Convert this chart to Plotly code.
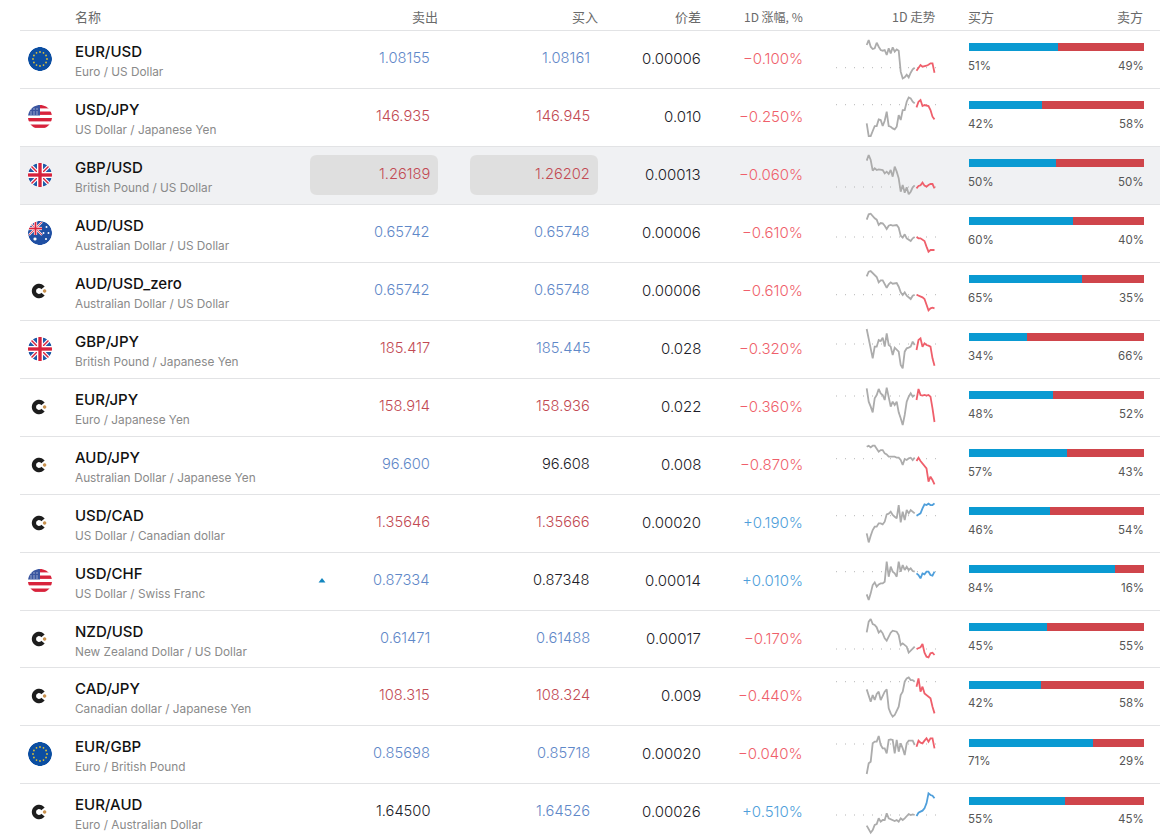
import numpy as np
import plotly.graph_objects as go

W, H = 1176, 836
HILITE = 2
FONT = "Inter, 'Noto Sans CJK SC', sans-serif"
CJK = "'Noto Sans CJK SC', sans-serif"

symbols = ["EUR/USD", "USD/JPY", "GBP/USD", "AUD/USD", "AUD/USD_zero", "GBP/JPY", "EUR/JPY",
           "AUD/JPY", "USD/CAD", "USD/CHF", "NZD/USD", "CAD/JPY", "EUR/GBP", "EUR/AUD"]
names = ["Euro / US Dollar", "US Dollar / Japanese Yen", "British Pound / US Dollar",
         "Australian Dollar / US Dollar", "Australian Dollar / US Dollar",
         "British Pound / Japanese Yen", "Euro / Japanese Yen", "Australian Dollar / Japanese Yen",
         "US Dollar / Canadian dollar", "US Dollar / Swiss Franc", "New Zealand Dollar / US Dollar",
         "Canadian dollar / Japanese Yen", "Euro / British Pound", "Euro / Australian Dollar"]
flags = ["eu", "us", "gb", "au", "c", "gb", "c", "c", "c", "us", "c", "c", "eu", "c"]
bid = ["1.08155", "146.935", "1.26189", "0.65742", "0.65742", "185.417", "158.914",
       "96.600", "1.35646", "0.87334", "0.61471", "108.315", "0.85698", "1.64500"]
ask = ["1.08161", "146.945", "1.26202", "0.65748", "0.65748", "185.445", "158.936",
       "96.608", "1.35666", "0.87348", "0.61488", "108.324", "0.85718", "1.64526"]
bid_dir = ["u", "d", "d", "u", "u", "d", "d", "u", "d", "u", "u", "d", "u", "n"]
ask_dir = ["u", "d", "d", "u", "u", "u", "d", "n", "d", "n", "u", "d", "u", "u"]
spread = ["0.00006", "0.010", "0.00013", "0.00006", "0.00006", "0.028", "0.022",
          "0.008", "0.00020", "0.00014", "0.00017", "0.009", "0.00020", "0.00026"]
change = ["-0.100%", "-0.250%", "-0.060%", "-0.610%", "-0.610%", "-0.320%", "-0.360%",
          "-0.870%", "+0.190%", "+0.010%", "-0.170%", "-0.440%", "-0.040%", "+0.510%"]
buyers = [51, 42, 50, 60, 65, 34, 48, 57, 46, 84, 45, 42, 71, 55]
sellers = [49, 58, 50, 40, 35, 66, 52, 43, 54, 16, 55, 58, 29, 45]
# bars are not quite the rounded labels
buy_share = [50.7, 41.5, 49.7, 59.6, 64.6, 33.2, 48.0, 56.2, 46.3, 83.5, 44.8, 41.2, 71.0, 54.9]

# 1D trend, change against previous close (arbitrary units), older part then latest part
spark_old = [
    [68, 83, 63, 56, 58, 75, 63, 53, 51, 53, 38, 58, 43, 61, 48, 55, 51, -12, -32, -29, -21, -29, -15, -5, 0],
    [-56, -94, -94, -81, -64, -64, -44, -46, -64, -48, -21, -64, -66, -71, -74, -66, -31, -46, -16, -16, 9, 22, 19, 9, 4],
    [79, 96, 81, 49, 56, 51, 53, 51, 51, 41, 46, 39, 51, 31, 61, 46, 26, -14, 6, -17, -1, -22, -14, -1, 5],
    [52, 68, 70, 62, 56, 52, 36, 42, 41, 34, 24, 34, 36, 34, 36, 36, 28, 4, -2, 8, -4, -8, -12, -4, 0],
    [55, 69, 71, 64, 57, 53, 37, 43, 43, 33, 21, 31, 37, 33, 35, 35, 24, 7, -1, 7, -3, -7, -13, -3, 0],
    [45, 17, -8, -43, -8, -8, 12, 9, 19, -8, 32, -3, -8, -33, -11, -18, -23, -63, -73, -23, -13, -11, -8, 7, -3],
    [23, -17, -32, -49, -7, 3, 21, 8, 3, -12, 25, -7, -32, -17, -27, -17, -49, -67, -87, -57, -17, -2, 8, -2, 3],
    [36, 39, 34, 39, 39, 31, 21, 26, 26, 16, 13, 6, 6, 4, 6, 3, 3, -4, -19, -1, -4, 1, 3, -4, 3],
    [-53, -80, -60, -43, -33, -33, -23, -23, -26, -18, 4, 6, 12, 2, -3, -8, 32, -20, 12, -13, 17, 7, 17, 12, 7],
    [-68, -85, -65, -40, -32, -45, -38, -35, -35, -30, 30, -15, 15, 0, -5, -15, 30, 0, 20, 5, 15, 5, 10, 2, 0],
    [50, 82, 90, 75, 72, 65, 49, 55, 47, 32, 25, 37, 49, 55, 54, 52, 42, 12, 17, 12, 7, -11, -5, 2, 7],
    [-23, -40, -60, -40, -55, -37, -30, -55, -40, -30, -23, -80, -95, -105, -100, -85, -75, -40, -30, 0, 10, 13, 5, 5, 0],
    [-90, -58, -53, 2, 7, 7, 24, -3, -13, -13, -28, 12, 14, 12, -28, 12, -23, 2, -13, -33, 2, 10, 10, 10, -3],
    [-32, -43, -53, -45, -30, -27, -10, -20, -15, -15, 5, -10, -13, -15, -18, -15, -20, -10, -15, -10, -3, 3, 0, 2, 0],
]
spark_new = [
    [-9, 0, 8, 3, 4, 6, 9, 13, 13, -15],
    [-8, 9, 14, -4, -1, -2, -4, -16, -36, -44],
    [-4, 3, 5, 13, 4, 1, 6, 9, 9, -4],
    [0, -4, -4, -8, -12, -29, -44, -39, -39, -39],
    [0, -3, -4, -8, -13, -29, -47, -41, -39, -41],
    [-18, 12, 17, -8, 2, -3, -5, -8, -43, -65],
    [-12, 21, 3, 1, 3, 1, 3, -2, -37, -78],
    [-7, 3, -7, -14, -24, -29, -69, -54, -64, -77],
    [0, 4, 7, 22, 34, 32, 36, 32, 32, 37],
    [-5, -10, -20, -5, -8, 0, 0, -10, -12, 0],
    [0, 2, 5, 15, -11, -23, -25, -13, -11, -18],
    [-15, 10, -30, -15, -35, -40, -45, -50, -75, -95],
    [-8, 10, 4, 2, 10, 17, 7, 17, 17, -13],
    [-3, 7, 10, 13, 20, 35, 65, 60, 58, 50],
]

# page layout, in pixels
row_tops = [30, 88, 146, 204, 262, 320, 378, 436, 494, 552, 610, 667, 725, 783]
ROW_H = 58
spark_base = [67.7, 104.7, 187, 237, 294.7, 344, 396, 458.7, 515.7, 571.7, 649, 681.7, 744, 815]

DIR_COL = {"u": "#5f88c8", "d": "#c24a53", "n": "#1c1c28"}
PANEL = "#f0f1f3"


def circle(cx, cy, r, rev=False, n=48):
    a = np.linspace(0, 2 * np.pi, n, endpoint=False)
    if rev:
        a = a[::-1]
    return "M" + "L".join(f"{cx + r * np.cos(t):.2f},{cy + r * np.sin(t):.2f}" for t in a) + "Z"


def poly(pts):
    return "M" + "L".join(f"{x:.2f},{y:.2f}" for x, y in pts) + "Z"


def rrect(x0, y0, x1, y1, r):
    return (f"M{x0 + r},{y0}L{x1 - r},{y0}Q{x1},{y0} {x1},{y0 + r}L{x1},{y1 - r}Q{x1},{y1} {x1 - r},{y1}"
            f"L{x0 + r},{y1}Q{x0},{y1} {x0},{y1 - r}L{x0},{y0 + r}Q{x0},{y0} {x0 + r},{y0}Z")


def fill_shape(path, color):
    return dict(type="path", path=path, fillcolor=color, line_width=0, xref="x", yref="y", layer="above")


def band(x0, y0, x1, y1, w):
    dx, dy = x1 - x0, y1 - y0
    k = w / 2 / np.hypot(dx, dy)
    return poly([(x0 - dy * k, y0 + dx * k), (x1 - dy * k, y1 + dx * k),
                 (x1 + dy * k, y1 - dx * k), (x0 + dy * k, y0 - dx * k)])


def union_jack(cx, cy, s):
    out = []
    for sx in (1, -1):
        out.append(fill_shape(band(cx - s * sx, cy - s, cx + s * sx, cy + s, s * 0.32), "#ffffff"))
        out.append(fill_shape(band(cx - s * sx, cy - s, cx + s * sx, cy + s, s * 0.12), "#d8233c"))
    out.append(fill_shape(band(cx - s, cy, cx + s, cy, s * 0.5), "#ffffff"))
    out.append(fill_shape(band(cx, cy - s, cx, cy + s, s * 0.5), "#ffffff"))
    out.append(fill_shape(band(cx - s, cy, cx + s, cy, s * 0.28), "#d8233c"))
    out.append(fill_shape(band(cx, cy - s, cx, cy + s, s * 0.28), "#d8233c"))
    return out


def flag(kind, cx, cy, bg):
    r = 12
    out = []
    if kind == "c":
        a = np.radians(np.linspace(38, 322, 30))
        outer = [(cx - 1 + 7.2 * np.cos(t), cy + 7.2 * np.sin(t)) for t in a]
        inner = [(cx - 1 + 2.9 * np.cos(t), cy + 2.9 * np.sin(t)) for t in a[::-1]]
        out.append(fill_shape(poly(outer + inner), "#1d1d1d"))
        out.append(fill_shape(circle(cx + 4.6, cy, 1.7), "#c9924f"))
        return out
    if kind == "eu":
        out.append(fill_shape(circle(cx, cy, r), "#0b4ea2"))
        for t in np.radians(np.arange(0, 360, 30)):
            out.append(fill_shape(circle(cx + 7 * np.cos(t), cy + 7 * np.sin(t), 0.9, n=8), "#e3c436"))
    elif kind == "us":
        out.append(fill_shape(circle(cx, cy, r), "#ffffff"))
        for k in (-12, -5.5, 1, 7.5):
            out.append(fill_shape(poly([(cx - r, cy + k), (cx + r, cy + k), (cx + r, cy + k + 3.4), (cx - r, cy + k + 3.4)]), "#d8233c"))
        out.append(fill_shape(poly([(cx - r, cy - r), (cx, cy - r), (cx, cy - 1.5), (cx - r, cy - 1.5)]), "#3a55a0"))
        for dx in (-9, -6, -3):
            for dy in (-8, -5, -3):
                out.append(fill_shape(circle(cx + dx, cy + dy, 0.6, n=6), "#ffffff"))
    elif kind == "gb":
        out.append(fill_shape(circle(cx, cy, r), "#1f5ba8"))
        out += union_jack(cx, cy, r)
    elif kind == "au":
        out.append(fill_shape(circle(cx, cy, r), "#1f4fa3"))
        out += union_jack(cx - 4.5, cy - 4.5, 6.5)
        for dx, dy, s in [(6.5, -6, 1), (3.5, 0, 1), (8.5, 0, 1), (6, 6, 1.1), (-5, 6, 1.6)]:
            out.append(fill_shape(circle(cx + dx, cy + dy, s, n=8), "#ffffff"))
    # ring hides whatever pokes out of the round flag
    ring = poly([(cx - 16, cy - 16), (cx + 16, cy - 16), (cx + 16, cy + 16), (cx - 16, cy + 16)]) + circle(cx, cy, r, rev=True)
    out.append(fill_shape(ring, bg))
    return out


fig = go.Figure()

# invisible trace so the pixel axes are there for text and shapes
fig.add_trace(go.Scatter(x=[0, W], y=[0, H], mode="markers", marker_opacity=0, hoverinfo="skip", xaxis="x", yaxis="y"))

shapes = []
annots = []


def text(x, y, s, size, color, anchor="left", family=FONT, weight=None):
    f = dict(family=family, size=size, color=color)
    if weight:
        f["weight"] = weight
    annots.append(dict(x=x, y=y, xref="x", yref="y", text=s, showarrow=False, xanchor=anchor,
                       yanchor="middle", font=f, borderpad=0, borderwidth=0))


y_hl = row_tops[HILITE]
shapes.append(dict(type="rect", x0=20, x1=1160, y0=y_hl, y1=y_hl + ROW_H, fillcolor=PANEL, line_width=0, layer="below", xref="x", yref="y"))
shapes.append(dict(type="path", path=rrect(310, 155, 438, 195, 7), fillcolor="#dfdfdf", line_width=0, layer="below", xref="x", yref="y"))
shapes.append(dict(type="path", path=rrect(470, 155, 598, 195, 7), fillcolor="#dfdfdf", line_width=0, layer="below", xref="x", yref="y"))
for top in row_tops:
    yy = top + 0.5
    shapes.append(dict(type="line", x0=20, x1=1160, y0=yy, y1=yy, line=dict(color="#e2e3e5", width=1), layer="below", xref="x", yref="y"))

# header
HEAD = "#6a6a6a"
text(75, 16, "名称", 13, HEAD, family=CJK)
text(438, 16, "卖出", 13, HEAD, "right", CJK)
text(598, 16, "买入", 13, HEAD, "right", CJK)
text(701, 16, "价差", 13, HEAD, "right", CJK)
text(803, 16, "1D 涨幅, %", 12, HEAD, "right", CJK)
text(936, 16, "1D 走势", 12.5, HEAD, "right", CJK)
text(968, 16, "买方", 13, HEAD, "left", CJK)
text(1143, 16, "卖方", 13, HEAD, "right", CJK)

for i in range(14):
    m = row_tops[i] + 29
    bg = PANEL if i == HILITE else "#ffffff"
    shapes += flag(flags[i], 40, m, bg)
    text(75, m - 8, symbols[i], 15, "#111111", weight=500)
    text(75, m + 13, names[i], 11.8, "#8a8a8a")
    text(430, m - 1, bid[i], 14.7, DIR_COL[bid_dir[i]], "right", weight=300)
    text(590, m - 1, ask[i], 14.7, DIR_COL[ask_dir[i]], "right", weight=300)
    text(701, m - 1, spread[i], 15, "#1c1c28", "right", weight=300)
    col = "#ef5f6b" if change[i][0] == "-" else "#4f9fdb"
    text(803, m - 1, change[i].replace("-", "−"), 15, col, "right", weight=300)
    text(968, m + 7, f"{buyers[i]}%", 11.5, "#555555")
    text(1143.5, m + 7, f"{sellers[i]}%", 11.5, "#555555", "right")

# buyers / sellers bars
row_idx = list(range(14))
ax_top = -47 / ROW_H
ax_bot = (H - 47) / ROW_H
fig.add_trace(go.Bar(y=row_idx, x=buy_share, orientation="h", width=8 / ROW_H, marker=dict(color="#0a9ad2", line_width=0),
                     xaxis="x2", yaxis="y2", hoverinfo="skip"))
fig.add_trace(go.Bar(y=row_idx, x=[100 - v for v in buy_share], orientation="h", width=8 / ROW_H,
                     marker=dict(color="#cf454b", line_width=0), xaxis="x2", yaxis="y2", hoverinfo="skip"))

layout = dict(
    width=W, height=H, margin=dict(l=0, r=0, t=0, b=0), paper_bgcolor="#ffffff", plot_bgcolor="rgba(0,0,0,0)",
    showlegend=False, barmode="stack",
    xaxis=dict(range=[0, W], visible=False, fixedrange=True, domain=[0, 1]),
    yaxis=dict(range=[H, 0], visible=False, fixedrange=True, domain=[0, 1]),
    xaxis2=dict(range=[0, 100], visible=False, fixedrange=True, domain=[969 / W, 1144 / W], anchor="y2"),
    yaxis2=dict(range=[ax_bot, ax_top], visible=False, fixedrange=True, domain=[0, 1], anchor="x2"),
)

# one small axis pair per trend line
SPX0, SPX1 = 835, 936
SCALE = 3  # data units per pixel
n_old = len(spark_old[0])
t_old = [2 * k for k in range(n_old)]
t_new = [2 * (n_old - 0.1) + 2 * k for k in range(10)]
for i in range(14):
    n = i + 3
    top = row_tops[i]
    bot = min(top + ROW_H, H)
    base = spark_base[i]
    xa, ya = f"xaxis{n}", f"yaxis{n}"
    layout[xa] = dict(range=[(SPX0 - 866.7), (SPX1 - 866.7)], visible=False, fixedrange=True,
                      domain=[SPX0 / W, SPX1 / W], anchor=f"y{n}")
    layout[ya] = dict(range=[(base - bot) * SCALE, (base - top) * SCALE], visible=False, fixedrange=True,
                      domain=[1 - bot / H, 1 - top / H], anchor=f"x{n}")
    fig.add_trace(go.Scatter(x=[SPX0 - 866.7 + 1, SPX1 - 866.7], y=[0, 0], mode="lines",
                             line=dict(color="#b5b5b5", width=1, dash="1px 8px"), xaxis=f"x{n}", yaxis=f"y{n}", hoverinfo="skip"))
    fig.add_trace(go.Scatter(x=t_old, y=spark_old[i], mode="lines", line=dict(color="#acacac", width=1.8),
                             xaxis=f"x{n}", yaxis=f"y{n}", hoverinfo="skip"))
    up = change[i][0] == "+"
    fig.add_trace(go.Scatter(x=t_new, y=spark_new[i], mode="lines", line=dict(color="#4f9fdb" if up else "#ef5f6b", width=1.8),
                             xaxis=f"x{n}", yaxis=f"y{n}", hoverinfo="skip"))

# small tick mark beside USD/CHF
fig.add_trace(go.Scatter(x=[322], y=[581], mode="markers", marker=dict(symbol="triangle-up", size=6, color="#1286bf", line_width=0),
                         xaxis="x", yaxis="y", hoverinfo="skip"))

fig.update_layout(shapes=shapes, annotations=annots, **layout)
fig.write_html("out.html", config=dict(displayModeBar=False),
               post_script="document.body.style.margin='0';document.body.style.overflow='hidden';")
